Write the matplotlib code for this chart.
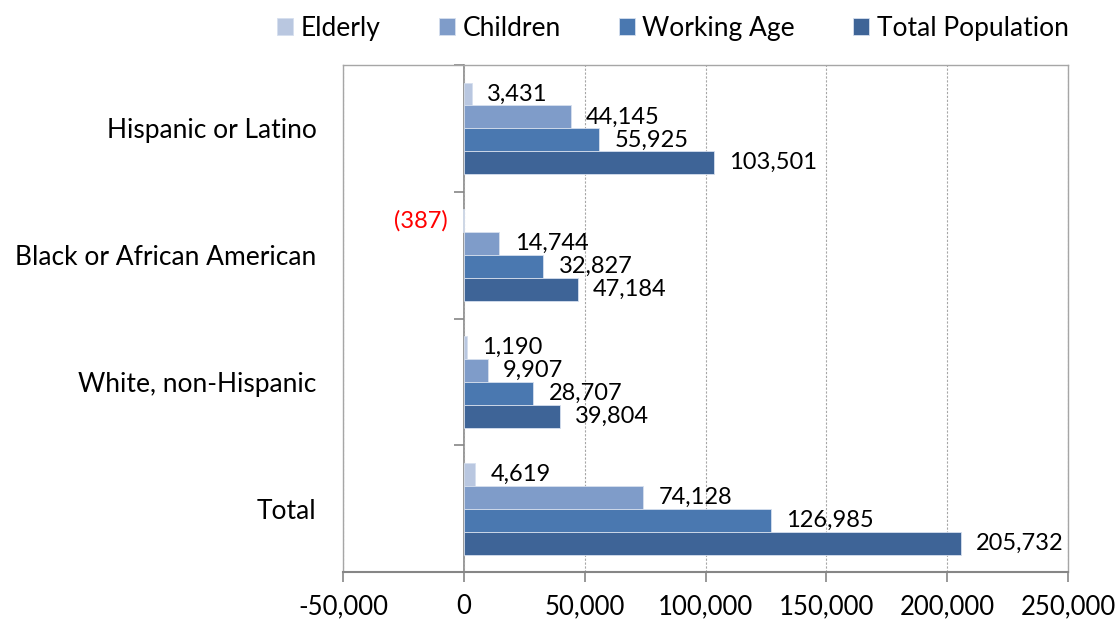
import numpy as np
import matplotlib.pyplot as plt
from matplotlib.ticker import FuncFormatter

plt.rcParams['font.family'] = ['Lato', 'DejaVu Sans']

# population change by group
categories = ['Hispanic or Latino', 'Black or African American',
              'White, non-Hispanic', 'Total']
series = ['Elderly', 'Children', 'Working Age', 'Total Population']
elderly = [3431, -387, 1190, 4619]
children = [44145, 14744, 9907, 74128]
working_age = [55925, 32827, 28707, 126985]
total_pop = [103501, 47184, 39804, 205732]

colors = ['#B9C7E0', '#7F9CC9', '#4A78B0', '#3E6497']
values = [elderly, children, working_age, total_pop]

fig = plt.figure(figsize=(11.18, 6.21), dpi=100)
ax = fig.add_axes([0.3068, 0.0789, 0.6485, 0.8164])

y = np.arange(len(categories))
h = 0.181
for i, (name, vals, c) in enumerate(zip(series, values, colors)):
    offs = (i - 1.5) * h
    bars = ax.barh(y + offs, vals, height=h, color=c, edgecolor='#D6DFEE',
                   linewidth=0.6, label=name, zorder=3)
    labels = [f'{v:,}' if v >= 0 else f'({-v:,})' for v in vals]
    texts = ax.bar_label(bars, labels=labels, padding=11, fontsize=17)
    for v, t in zip(vals, texts):
        if v < 0:
            t.set_color('red')

ax.set_xlim(-50000, 250000)
ax.set_ylim(3.5, -0.5)
ax.set_xticks(np.arange(-50000, 250001, 50000))
ax.xaxis.set_major_formatter(FuncFormatter(lambda v, p: f'{int(v):,}'))
ax.tick_params(axis='x', length=7, width=1.2, color='#868686', pad=9,
               labelsize=18.5)
ax.set_yticks(y)
ax.set_yticklabels(categories, fontsize=19)
ax.tick_params(axis='y', length=0, pad=19)

ax.grid(axis='x', linestyle=(0, (2, 1.5)), color='#A6A6A6', linewidth=0.8,
        zorder=0)
for s in ax.spines.values():
    s.set_color('#A6A6A6')
    s.set_linewidth(1.0)
ax.spines['bottom'].set_color('#868686')
ax.spines['bottom'].set_linewidth(1.5)

# category axis at zero with separator ticks
sec = ax.secondary_yaxis(1 / 6)
sec.set_yticks(np.arange(-0.5, len(categories), 1.0))
sec.set_yticklabels([])
sec.tick_params(length=7, width=1.2, color='#868686', direction='out')
sec.spines['left'].set_color('#868686')
sec.spines['left'].set_linewidth(1.2)

ax.legend(loc='center', bbox_to_anchor=(0.455, 1.072), ncol=4,
          frameon=False, fontsize=19, handlelength=0.6, handleheight=0.6,
          handletextpad=0.3, columnspacing=2.2, borderaxespad=0)

fig.savefig('out.png', dpi=100)
